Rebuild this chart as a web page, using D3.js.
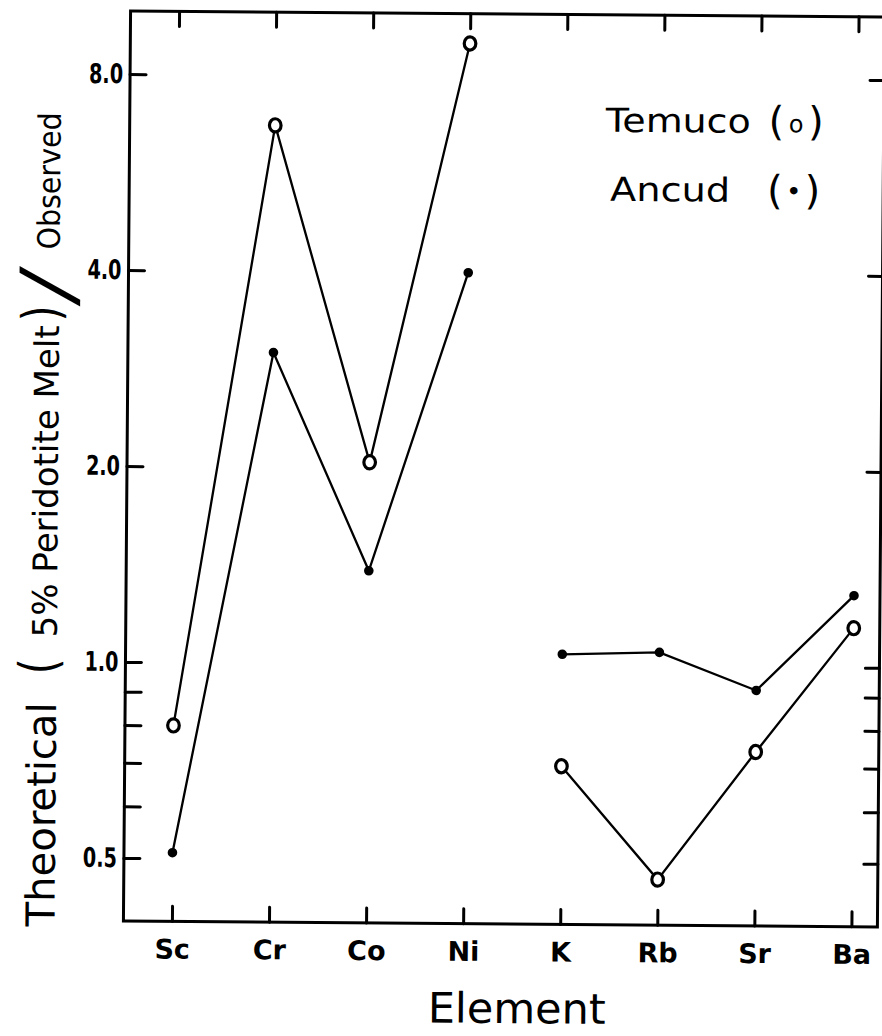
<!DOCTYPE html>
<html>
<head>
<meta charset="utf-8">
<script src="https://cdn.jsdelivr.net/npm/d3@7"></script>
<style>
  html, body { margin: 0; padding: 0; background: #fff; }
  svg { display: block; }
  text { font-family: "DejaVu Sans", "Liberation Sans", sans-serif; fill: #000; }
</style>
</head>
<body>
<script>
// Trace elements, ratio of theoretical (5% peridotite melt) to observed concentration
const elements = ["Sc", "Cr", "Co", "Ni", "K", "Rb", "Sr", "Ba"];
const temuco = [0.80, 6.7, 2.04, 9.0, 0.70, 0.47, 0.74, 1.15];
const ancud  = [0.51, 3.0, 1.39, 4.0, 1.04, 1.05, 0.92, 1.29];
// Lines are drawn separately for the compatible and the incompatible elements
const lineGroups = [["Sc", "Cr", "Co", "Ni"], ["K", "Rb", "Sr", "Ba"]];
const yTicks = [0.5, 0.6, 0.7, 0.8, 0.9, 1, 2, 4, 8];
const yTickLabels = { 0.5: "0.5", 1: "1.0", 2: "2.0", 4: "4.0", 8: "8.0" };
const seriesNames = ["Temuco", "Ancud"];

const W = 882, H = 1036;
const frame = { left: 127, right: 881, top: 11, bottom: 921 };

const svg = d3.select("body").append("svg")
  .attr("width", W).attr("height", H)
  .attr("viewBox", `0 0 ${W} ${H}`);
svg.append("rect").attr("width", W).attr("height", H).attr("fill", "#fff");

// the hand-drawn sheet sits slightly askew
const g = svg.append("g").attr("transform", "rotate(0.45, 127, 466)");

const x = d3.scalePoint().domain(elements).range([175.5, 855]);
const y = d3.scaleLog().base(2).domain([0.4, 10]).range([frame.bottom, frame.top]);

// frame
g.append("rect")
  .attr("x", frame.left).attr("y", frame.top)
  .attr("width", frame.right - frame.left).attr("height", frame.bottom - frame.top)
  .attr("fill", "none").attr("stroke", "#000").attr("stroke-width", 3);

function styleAxis(sel) {
  sel.select(".domain").remove();
  sel.selectAll(".tick line").attr("stroke", "#000").attr("stroke-width", 3).attr("stroke-linecap", "round");
}

// bottom axis with element labels
const xb = g.append("g").attr("transform", `translate(0,${frame.bottom})`)
  .call(d3.axisBottom(x).tickSizeInner(-15).tickSizeOuter(0).tickPadding(18));
styleAxis(xb);
xb.selectAll(".tick text")
  .attr("font-size", 27).attr("font-weight", "bold").attr("fill", "#000")
  .style("font-family", "'DejaVu Sans', sans-serif");

// top ticks
const xt = g.append("g").attr("transform", `translate(0,${frame.top})`)
  .call(d3.axisTop(x).tickSizeInner(-15).tickSizeOuter(0).tickFormat(""));
styleAxis(xt);

// left axis (log scale)
const yl = g.append("g").attr("transform", `translate(${frame.left},0)`)
  .call(d3.axisLeft(y).tickValues(yTicks).tickSizeInner(-16).tickSizeOuter(0).tickPadding(7)
    .tickFormat(d => yTickLabels[d] || ""));
styleAxis(yl);
yl.selectAll(".tick text")
  .attr("font-size", 27).attr("font-weight", "bold").attr("fill", "#000")
  .style("font-family", "'DejaVu Sans', sans-serif")
  .each(function () {
    if (this.textContent) d3.select(this).attr("textLength", 34).attr("lengthAdjust", "spacingAndGlyphs");
  });

// right ticks
const yr = g.append("g").attr("transform", `translate(${frame.right},0)`)
  .call(d3.axisRight(y).tickValues(yTicks).tickSizeInner(-14).tickSizeOuter(0).tickFormat(""));
styleAxis(yr);

// series lines
const line = d3.line().x(d => x(d.el)).y(d => y(d.v));
const series = [
  { name: seriesNames[0], values: temuco, open: true },
  { name: seriesNames[1], values: ancud, open: false }
];
series.forEach(s => {
  lineGroups.forEach(grp => {
    const pts = grp.map(el => ({ el, v: s.values[elements.indexOf(el)] }));
    g.append("path").datum(pts).attr("d", line)
      .attr("fill", "none").attr("stroke", "#000").attr("stroke-width", 2.3);
  });
});
series.forEach(s => {
  const pts = elements.map((el, i) => ({ el, v: s.values[i] }));
  g.selectAll(null).data(pts).enter().append(s.open ? "ellipse" : "circle")
    .each(function (d) {
      const m = d3.select(this);
      if (s.open) {
        m.attr("cx", x(d.el)).attr("cy", y(d.v)).attr("rx", 5.8).attr("ry", 6.6)
          .attr("fill", "#fff").attr("stroke", "#000").attr("stroke-width", 3.2);
      } else {
        m.attr("cx", x(d.el)).attr("cy", y(d.v)).attr("r", 4.8).attr("fill", "#000");
      }
    });
});

// legend
const leg = g.append("g");
leg.append("text").attr("x", 603).attr("y", 128).attr("font-size", 33)
  .attr("textLength", 145).attr("lengthAdjust", "spacingAndGlyphs").text(seriesNames[0]);
const l1 = leg.append("text").attr("x", 766).attr("y", 130)
  .attr("textLength", 55).attr("lengthAdjust", "spacing");
l1.append("tspan").attr("font-size", 40).text("(");
l1.append("tspan").attr("font-size", 24).attr("dy", -3).text("o");
l1.append("tspan").attr("font-size", 40).attr("dy", 3).text(")");
leg.append("text").attr("x", 608).attr("y", 197).attr("font-size", 33)
  .attr("textLength", 120).attr("lengthAdjust", "spacingAndGlyphs").text(seriesNames[1]);
const l2 = leg.append("text").attr("x", 765).attr("y", 199)
  .attr("textLength", 53).attr("lengthAdjust", "spacing");
l2.append("tspan").attr("font-size", 40).text("(");
l2.append("tspan").attr("font-size", 26).attr("dy", -4).text("•");
l2.append("tspan").attr("font-size", 40).attr("dy", 4).text(")");

// x-axis title
g.append("text").attr("x", 432).attr("y", 1020).attr("font-size", 42)
  .attr("textLength", 178).attr("lengthAdjust", "spacingAndGlyphs").text("Element");

// y-axis title, laid out piece by piece along the rotated baseline
const yt = g.append("g").attr("transform", "translate(58,927) rotate(-90)");
const parts = [
  { t: "Theoretical", at: 0, len: 224, size: 40 },
  { t: "(", at: 252, len: 16, size: 52 },
  { t: "5% Peridotite Melt", at: 289, len: 312, size: 34 },
  { t: ")", at: 605, len: 16, size: 52 },
  { t: "Observed", at: 677, len: 137, size: 31 }
];
parts.forEach(p => {
  yt.append("text").attr("x", p.at).attr("y", 0)
    .attr("font-size", p.size)
    .attr("textLength", p.len).attr("lengthAdjust", "spacingAndGlyphs")
    .text(p.t);
});
// the long ratio stroke between the two parts
yt.append("text")
  .attr("x", 618).attr("y", 14)
  .attr("font-size", 74).attr("font-weight", 200)
  .style("font-family", "'DejaVu Sans ExtraLight', 'DejaVu Sans', sans-serif")
  .attr("textLength", 44).attr("lengthAdjust", "spacingAndGlyphs")
  .text("/");
</script>
</body>
</html>
